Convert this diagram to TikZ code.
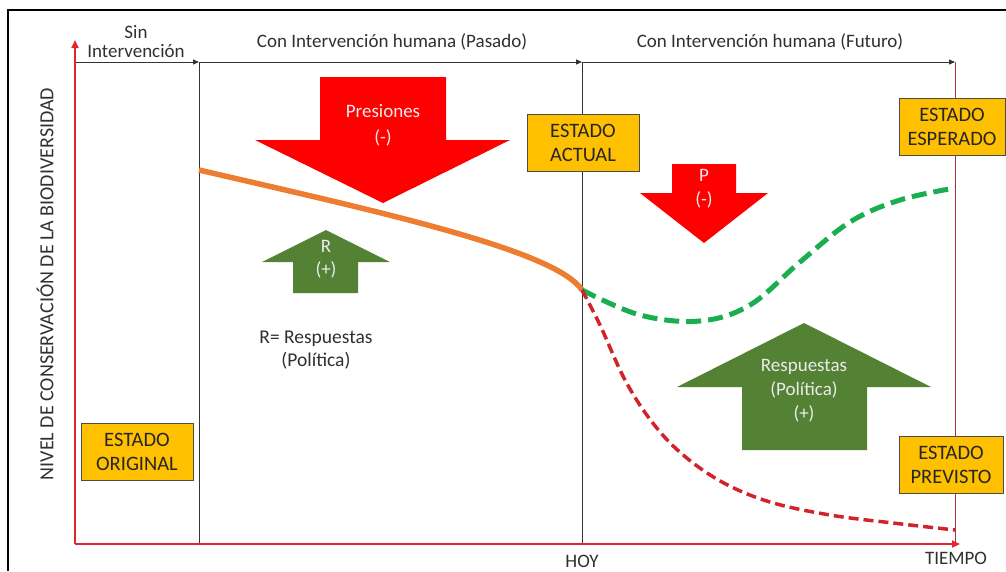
\documentclass[tikz,border=0pt]{standalone}
\usepackage{fontspec}
\setmainfont{Carlito}
\usetikzlibrary{arrows.meta}
\definecolor{boxfill}{HTML}{FFC000}
\definecolor{axisred}{HTML}{E2262C}
\definecolor{arrred}{HTML}{FF0000}
\definecolor{arrgreen}{HTML}{548235}
\definecolor{curveorange}{HTML}{ED7D31}
\definecolor{curvegreen}{HTML}{1BAE50}
\definecolor{curvered}{HTML}{D0242A}
\definecolor{txtgray}{HTML}{303030}
\definecolor{lineRed}{HTML}{B03040}
\begin{document}
\begin{tikzpicture}[x=1pt,y=-1pt,
  estado/.style={draw=black!70, line width=0.9pt, fill=boxfill, align=center,
    font=\fontsize{20.5}{24}\selectfont, text=black!85, inner sep=0pt,
    minimum height=57pt},
  hdr/.style={font=\fontsize{19}{20}\selectfont, text=txtgray, align=center, inner sep=0pt},
  intxt/.style={font=\fontsize{19}{24}\selectfont, text=white!92!black, align=center, inner sep=0pt},
  axisline/.style={draw=axisred, line width=1.8pt},
  divline/.style={draw=black!80, line width=0.9pt},
  tiny/.style={-{Triangle[length=6pt,width=5pt]}}
]
\useasboundingbox (0,0) rectangle (1006,571);
% frame
\draw[black, line width=2pt] (8,571) -- (8,10) -- (1006,10);

% coordinates
\coordinate (O) at (75,544);
\coordinate (Ytop) at (75,40);
\coordinate (Xend) at (960,544);
\coordinate (H0) at (75,62);
\coordinate (H1) at (199,62);
\coordinate (H2) at (582,62);
\coordinate (H3) at (955,62);
\coordinate (B1) at (199,544);
\coordinate (B2) at (582,544);
\coordinate (B3) at (955,544);

% dividers
\draw[divline] (H1) -- (B1);
\draw[divline] (H2) -- (B2);
\draw[draw=lineRed, line width=1pt] (H3) -- (B3);
\draw[divline, tiny] (H0) -- (H1);
\draw[divline, tiny] (H1) -- (H2);
\draw[divline, tiny] (H2) -- (H3);

% axes
\draw[axisline, -{Triangle[length=8pt,width=7pt]}] (O) -- (Ytop);
\draw[axisline, -{Triangle[length=8pt,width=7pt]}] (O) -- (Xend);

% header labels
\node[hdr] (sin) at (136,42) {Sin\\[-1pt]Intervención};
\node[hdr] (pasado) at (392,42) {Con Intervención humana (Pasado)};
\node[hdr] (futuro) at (770,42) {Con Intervención humana (Futuro)};
\node[hdr, rotate=90, font=\fontsize{20}{20}\selectfont] (ylab) at (45,284) {NIVEL DE CONSERVACIÓN DE LA BIODIVERSIDAD};
\node[hdr] (hoy) at (582,561) {HOY};
\node[hdr] (tiempo) at (956,558) {TIEMPO};

% big red arrow (Presiones)
\fill[arrred] (320,77) -- (446,77) -- (446,140) -- (510,140) -- (383,203) -- (255,140) -- (320,140) -- cycle;
\node[intxt, font=\fontsize{19}{26}\selectfont] (pres) at (383,125) {Presiones\\(-)};

% small red arrow (P)
\fill[arrred] (672,164) -- (736,164) -- (736,193) -- (768,193) -- (704,243) -- (640,193) -- (672,193) -- cycle;
\node[intxt] (p) at (704,189) {P\\(-)};

% small green arrow (R)
\fill[arrgreen] (293,293) -- (358,293) -- (358,262) -- (390,262) -- (326,230) -- (262,262) -- (293,262) -- cycle;
\node[intxt, font=\fontsize{19}{23}\selectfont] (r) at (326,259) {R\\(+)};

% big green arrow (Respuestas)
\fill[arrgreen] (742,450) -- (867,450) -- (867,387) -- (931,387) -- (804,323) -- (677,387) -- (742,387) -- cycle;
\node[intxt] (resp) at (804,391) {Respuestas\\(Política)\\(+)};

\node[font=\fontsize{19.5}{23}\selectfont, text=txtgray, align=center, inner sep=0pt] (rdef) at (316,350) {R= Respuestas\\(Política)};

% curves
\coordinate (start) at (199,170);
\coordinate (now) at (582,290);
\coordinate (esp) at (955,188);
\coordinate (prev) at (955,530);
\draw[curveorange, line width=5.5pt] (start) .. controls (380,212) and (555,250) .. (now);
\draw[curvegreen, line width=5pt, dash pattern=on 15pt off 7pt] plot[smooth, tension=0.6] coordinates {(582,290) (640,315) (700,321) (750,305) (800,262) (850,222) (900,200) (955,188)};
\draw[curvered, line width=3.5pt, dash pattern=on 10pt off 5pt] plot[smooth, tension=0.6] coordinates {(582,290) (600,325) (625,380) (652,422) (682,454) (722,482) (770,502) (830,515) (893,523) (955,530)};

% state boxes
\node[estado, minimum width=112pt] (orig) at (137,451.5) {ESTADO\\ORIGINAL};
\node[estado, minimum width=112pt] (act) at (583,142.5) {ESTADO\\ACTUAL};
\node[estado, minimum width=106pt] (espb) at (952,126.5) {ESTADO\\ESPERADO};
\node[estado, minimum width=104pt] (prevb) at (951,464.5) {ESTADO\\PREVISTO};
\end{tikzpicture}
\end{document}
